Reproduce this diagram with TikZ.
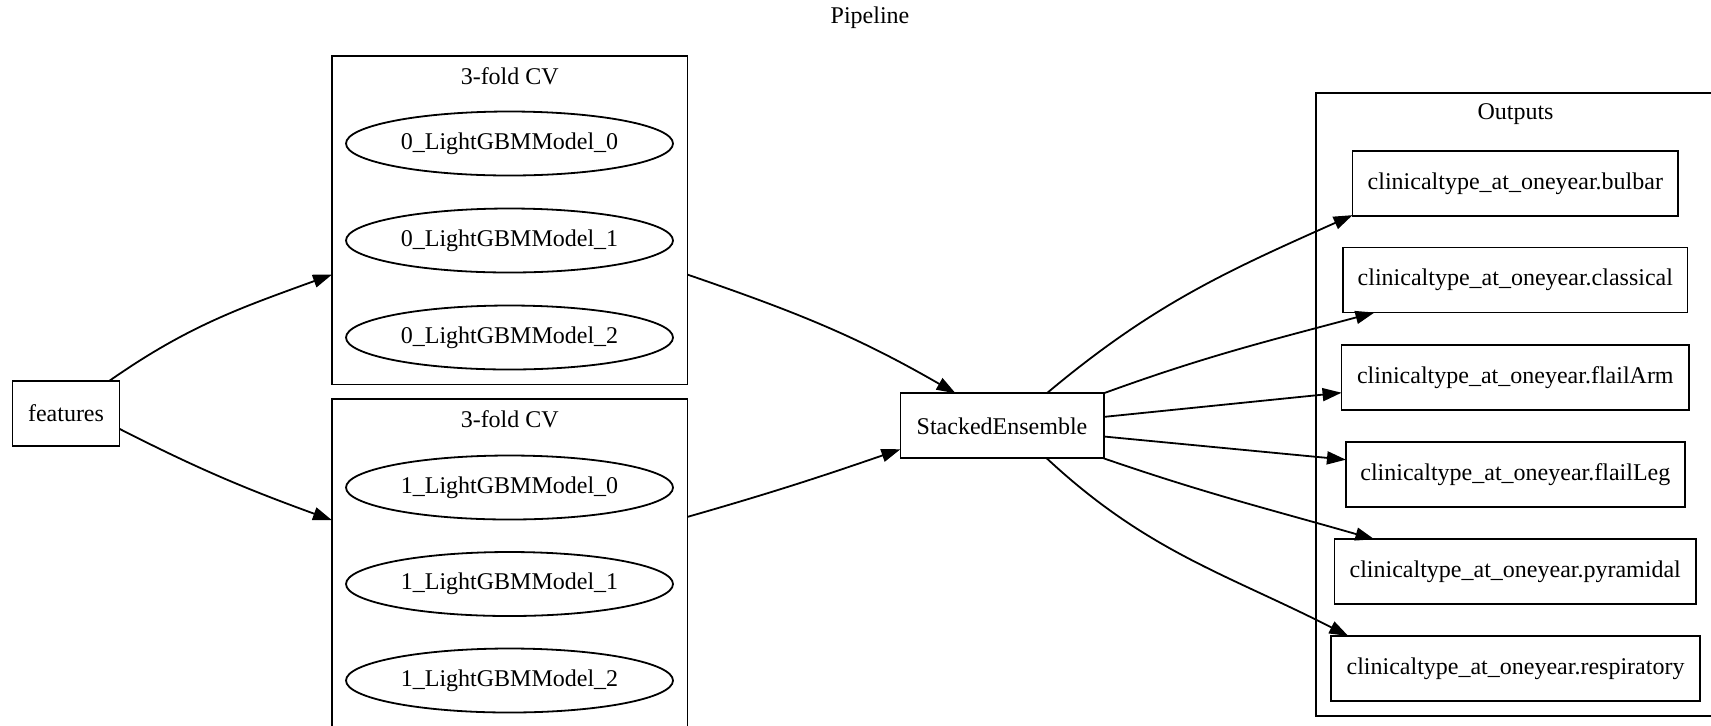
\documentclass[tikz,border=0pt]{standalone}
\usepackage{fontspec}
\setmainfont{Liberation Serif}
\usetikzlibrary{arrows.meta,shapes.geometric}
\begin{document}
\begin{tikzpicture}[x=0.5pt,y=-0.5pt,
  every node/.style={font=\fontsize{12}{14}\selectfont, inner sep=0pt, outer sep=0pt},
  box/.style={draw, line width=0.9pt, rectangle, minimum height=32.5pt},
  model/.style={draw, line width=0.9pt, ellipse, minimum width=163.5pt, minimum height=32pt},
  cluster/.style={draw, line width=0.9pt, rectangle},
  edge/.style={line width=0.9pt, -{Triangle[length=9.5pt,width=6.5pt]}}]
\useasboundingbox (0,0) rectangle (1711,725);
% title
\node (title) at (870,18) {Pipeline};
% clusters
\node[cluster, minimum width=177.75pt, minimum height=164.25pt] (c0) at (509.75,220.25) {};
\node (c0lbl) at (509.75,76) {3-fold CV};
\node[cluster, minimum width=177.75pt, minimum height=165.5pt] (c1) at (509.75,564.5) {};
\node (c1lbl) at (509.75,419) {3-fold CV};
\node[cluster, minimum width=198.5pt, minimum height=311.5pt] (out) at (1514.5,404.5) {};
\node (outlbl) at (1515.5,114) {Outputs};
% models
\node[model] (m00) at (509.5,143.5) {0\_LightGBMModel\_0};
\node[model] (m01) at (509.5,240.5) {0\_LightGBMModel\_1};
\node[model] (m02) at (509.5,337.5) {0\_LightGBMModel\_2};
\node[model] (m10) at (509.5,487.5) {1\_LightGBMModel\_0};
\node[model] (m11) at (509.5,584) {1\_LightGBMModel\_1};
\node[model] (m12) at (509.5,680.5) {1\_LightGBMModel\_2};
% features and ensemble
\node[box, minimum width=53.5pt] (features) at (66,413.5) {features};
\node[box, minimum width=101.6pt] (se) at (1002,425.8) {StackedEnsemble};
% outputs
\node[box, minimum width=162.75pt] (bulbar) at (1515.3,183.5) {clinicaltype\_at\_oneyear.bulbar};
\node[box, minimum width=172.25pt] (classical) at (1515.3,280) {clinicaltype\_at\_oneyear.classical};
\node[box, minimum width=173.75pt] (flailarm) at (1515.3,377.5) {clinicaltype\_at\_oneyear.flailArm};
\node[box, minimum width=169.35pt] (flailleg) at (1515.3,474.5) {clinicaltype\_at\_oneyear.flailLeg};
\node[box, minimum width=180.8pt] (pyramidal) at (1515.2,571.8) {clinicaltype\_at\_oneyear.pyramidal};
\node[box, minimum width=184.5pt] (respiratory) at (1515.5,668.5) {clinicaltype\_at\_oneyear.respiratory};
% edges
\draw[edge] (features.37) to[out=35,in=200] (c0.197);
\draw[edge] (features.344) to[out=-27,in=160] (c1.166);
\draw[edge] (c0.343) to[out=-19,in=150] (se.145);
\draw[edge] (c1.15) to[out=16,in=199] (se.193);
\draw[edge] (se.36) to[out=40,in=204] (bulbar.191);
\draw[edge] (se.north east) to[out=20,in=195] (classical.193);
\draw[edge] (se.5) -- (flailarm.185);
\draw[edge] (se.354) -- (flailleg.175);
\draw[edge] (se.south east) to[out=-19,in=164] (pyramidal.167);
\draw[edge] (se.324) to[out=-43,in=153] (respiratory.169);
\end{tikzpicture}
\end{document}
